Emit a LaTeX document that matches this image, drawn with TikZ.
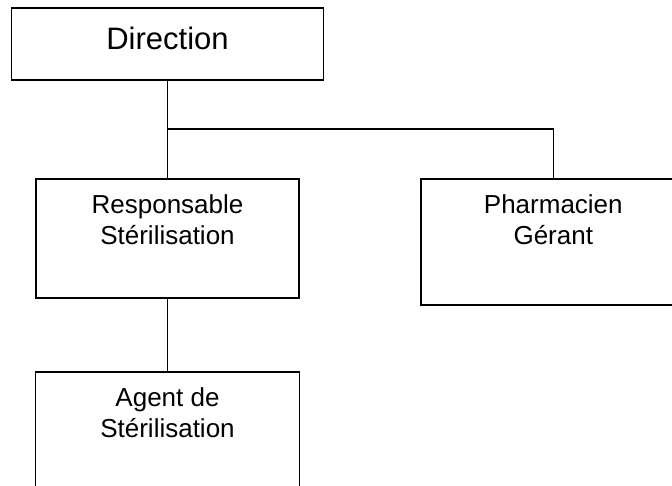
\documentclass[tikz,border=0pt]{standalone}
\usepackage{fontspec}
\setmainfont{Liberation Sans}
\usetikzlibrary{positioning}

\begin{document}
\begin{tikzpicture}[
    x=1pt, y=-1pt,
    box/.style={draw,rectangle,line width=1.8pt,inner sep=0pt},
    boxtext/.style={anchor=north,inner sep=0pt,align=center,font={\fontsize{26}{31}\selectfont}},
]
    \useasboundingbox (0,0) rectangle (672,485);

    % Boxes
    \node[box,minimum width=312pt,minimum height=72pt] (direction) at (167.5,44) {};
    \node[box,minimum width=263pt,minimum height=119pt,below=97pt of direction] (resp) {};
    \node[box,minimum width=264pt,minimum height=126pt,right=120.5pt of resp.north east,anchor=north west] (pharm) {};
    \node[box,minimum width=264pt,minimum height=126pt,below=72pt of resp] (agent) {};

    % Texts
    \node[boxtext,font={\fontsize{31}{37}\selectfont},below=20pt of direction.north] (dirtext) {Direction};
    \node[boxtext,below=16.5pt of resp.north] (resptext) {Responsable\\Stérilisation};
    \node[boxtext,below=16.5pt of pharm.north] (pharmtext) {Pharmacien\\Gérant};
    \node[boxtext,below=16.5pt of agent.north] (agenttext) {Agent de\\Stérilisation};

    % Links
    \draw[line width=1.6pt] (direction) -- (resp);
    \draw[line width=1.6pt] (pharm.north) -- ++(0,-49) -| (direction.south);
    \draw[line width=1.6pt] (resp) -- (agent);

\end{tikzpicture}
\end{document}
